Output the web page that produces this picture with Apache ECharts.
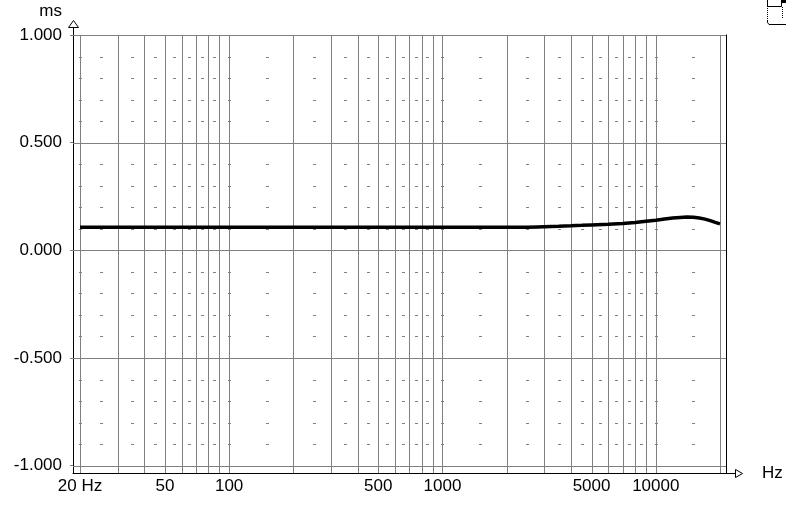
<!DOCTYPE html>
<html><head><meta charset="utf-8">
<script src="https://cdn.jsdelivr.net/npm/echarts@6/dist/echarts.min.js"></script>
<style>html,body{margin:0;padding:0;background:#fff}#c{width:786px;height:505px}</style>
</head><body><div id="c"></div>
<script>
// ---- data ----
const freqs = [20,30,50,100,200,500,1000,2000,2500,2800,3000,3500,4000,4500,5000,6000,7000,8000,9000,10000,11000,12000,13000,14000,15000,16000,17000,18000,19000,20000];
const delayMs = [0.107,0.107,0.107,0.107,0.107,0.107,0.107,0.107,0.107,0.109,0.110,0.112,0.114,0.116,0.118,0.121,0.125,0.129,0.135,0.140,0.146,0.150,0.153,0.155,0.154,0.150,0.145,0.138,0.130,0.123];
const xLabelValues = [20,50,100,500,1000,5000,10000];
const xLabelTexts = ['20 Hz','50','100','500','1000','5000','10000'];
const yLabelValues = [-1,-0.5,0,0.5,1];
const vGridFreqs = [20,30,40,50,60,70,80,90,100,200,300,400,500,600,700,800,900,1000,2000,3000,4000,5000,6000,7000,8000,9000,10000,20000];
const hGridValues = [-1,-0.5,0,0.5,1];
const dotFreqs = [20,25,35,45,55,65,75,85,100,150,250,350,450,550,650,750,850,1000,1500,2500,3500,4500,5500,6500,7500,8500,10000,15000];
const dotValues = [-0.9,-0.8,-0.7,-0.6,-0.4,-0.3,-0.2,-0.1,0.1,0.2,0.3,0.4,0.6,0.7,0.8,0.9];

// ---- chart ----
const FONT = "'Liberation Sans', Arial, sans-serif";
const GRAY = '#808080';
const chart = echarts.init(document.getElementById('c'), null, {renderer:'canvas'});
const xMin = 20 * Math.pow(10, -7/213.33);
const xMax = 20000 * Math.pow(10, 6/213.33);
const yMin = -1 - 7.3/215.35, yMax = 1;

const dotData = [];
dotFreqs.forEach(f => dotValues.forEach(v => dotData.push([f, v])));

chart.setOption({
  animation: false,
  backgroundColor: '#fff',
  grid: {left: 73, right: 60, top: 35, bottom: 32, containLabel: false},
  xAxis: {
    type: 'log', min: xMin, max: xMax, logBase: 10, position: 'bottom',
    axisLine: {show: true, onZero: false, lineStyle: {color: '#000', width: 1}},
    axisTick: {show: false},
    splitLine: {show: false}, minorSplitLine: {show: false},
    axisLabel: {
      show: true, customValues: xLabelValues, margin: 5,
      color: '#000', fontSize: 17, fontFamily: FONT,
      formatter: v => { const i = xLabelValues.findIndex(x => Math.abs(x - v) / x < 1e-6); return i >= 0 ? xLabelTexts[i] : ''; }
    },
    name: 'Hz', nameLocation: 'end', nameGap: 36,
    nameTextStyle: {color: '#000', fontSize: 17, fontFamily: FONT, align: 'left', verticalAlign: 'middle', padding: [0,0,8,0]}
  },
  yAxis: [{
    type: 'value', min: yMin, max: yMax,
    axisLine: {show: true, onZero: false, lineStyle: {color: '#000', width: 1}},
    axisTick: {show: true, customValues: yLabelValues, length: 3, lineStyle: {color: GRAY}},
    splitLine: {show: false},
    axisLabel: {show: true, customValues: yLabelValues, margin: 11, color: '#000', fontSize: 17, fontFamily: FONT,
      formatter: v => (Math.abs(v) < 1e-9 ? 0 : v).toFixed(3)},
    name: 'ms', nameLocation: 'end', nameGap: 24,
    nameTextStyle: {color: '#000', fontSize: 17, fontFamily: FONT, align: 'right', verticalAlign: 'middle', padding: [0,11,0,0]}
  }, {
    type: 'value', min: yMin, max: yMax, position: 'right',
    axisLine: {show: true, onZero: false, lineStyle: {color: '#000', width: 1}},
    axisTick: {show: false}, axisLabel: {show: false}, splitLine: {show: false}
  }],
  series: [
    {
      type: 'custom', name: 'vgrid', z: 1, silent: true, clip: false,
      data: vGridFreqs.map(f => [f, 0]), encode: {x: 0, y: 1},
      renderItem: (params, api) => {
        const cs = params.coordSys;
        const x = Math.round(api.coord([api.value(0), 0])[0]) + 0.5;
        return {type: 'line', shape: {x1: x, y1: cs.y, x2: x, y2: cs.y + cs.height}, style: {stroke: GRAY, lineWidth: 1}};
      }
    },
    {
      type: 'custom', name: 'hgrid', z: 1, silent: true, clip: false,
      data: hGridValues.map(v => [100, v]), encode: {x: 0, y: 1},
      renderItem: (params, api) => {
        const cs = params.coordSys;
        const y = Math.round(api.coord([api.value(0), api.value(1)])[1]) + 0.5;
        return {type: 'line', shape: {x1: cs.x, y1: y, x2: cs.x + cs.width, y2: y}, style: {stroke: GRAY, lineWidth: 1}};
      }
    },
    {
      type: 'custom', name: 'dots', z: 2, silent: true,
      data: dotData, encode: {x: 0, y: 1},
      renderItem: (params, api) => {
        const p = api.coord([api.value(0), api.value(1)]);
        return {type: 'rect', shape: {x: Math.round(p[0]) - 1, y: Math.round(p[1]), width: 3, height: 1}, style: {fill: GRAY}};
      }
    },
    {
      type: 'line', name: 'delay', z: 5, showSymbol: false, symbol: 'none',
      data: freqs.map((f, i) => [f, delayMs[i]]),
      lineStyle: {color: '#000', width: 3.5}
    }
  ],
  graphic: [
    {type: 'line', shape: {x1: 73.5, y1: 27, x2: 73.5, y2: 35}, style: {stroke: '#000', lineWidth: 1}},
    {type: 'polygon', shape: {points: [[73.5, 20.5], [68.5, 27.5], [78.5, 27.5]]}, style: {fill: '#fff', stroke: '#000', lineWidth: 1}},
    {type: 'line', shape: {x1: 726, y1: 473.5, x2: 735, y2: 473.5}, style: {stroke: '#000', lineWidth: 1}},
    {type: 'polygon', shape: {points: [[742.5, 473.5], [735.5, 469.5], [735.5, 477.5]]}, style: {fill: '#fff', stroke: '#000', lineWidth: 1}},
    // top-right window icon
    {type: 'line', shape: {x1: 767.5, y1: 0, x2: 767.5, y2: 21}, style: {stroke: '#000', lineWidth: 1, lineDash: [1, 1]}},
    {type: 'polyline', shape: {points: [[767.5, 21], [767.5, 22.5], [769, 24.5], [786, 24.5]]}, style: {stroke: '#000', lineWidth: 1, fill: null}},
    {type: 'polyline', shape: {points: [[767.5, 0], [767.5, 6.5], [781.5, 6.5], [781.5, 0]]}, style: {stroke: '#000', lineWidth: 1, fill: null}},
    {type: 'rect', shape: {x: 781, y: 0, width: 5, height: 3}, style: {fill: '#000'}},
    {type: 'line', shape: {x1: 782.5, y1: 7, x2: 782.5, y2: 19}, style: {stroke: '#000', lineWidth: 1, lineDash: [1, 1]}}
  ]
});
</script>
</body></html>
